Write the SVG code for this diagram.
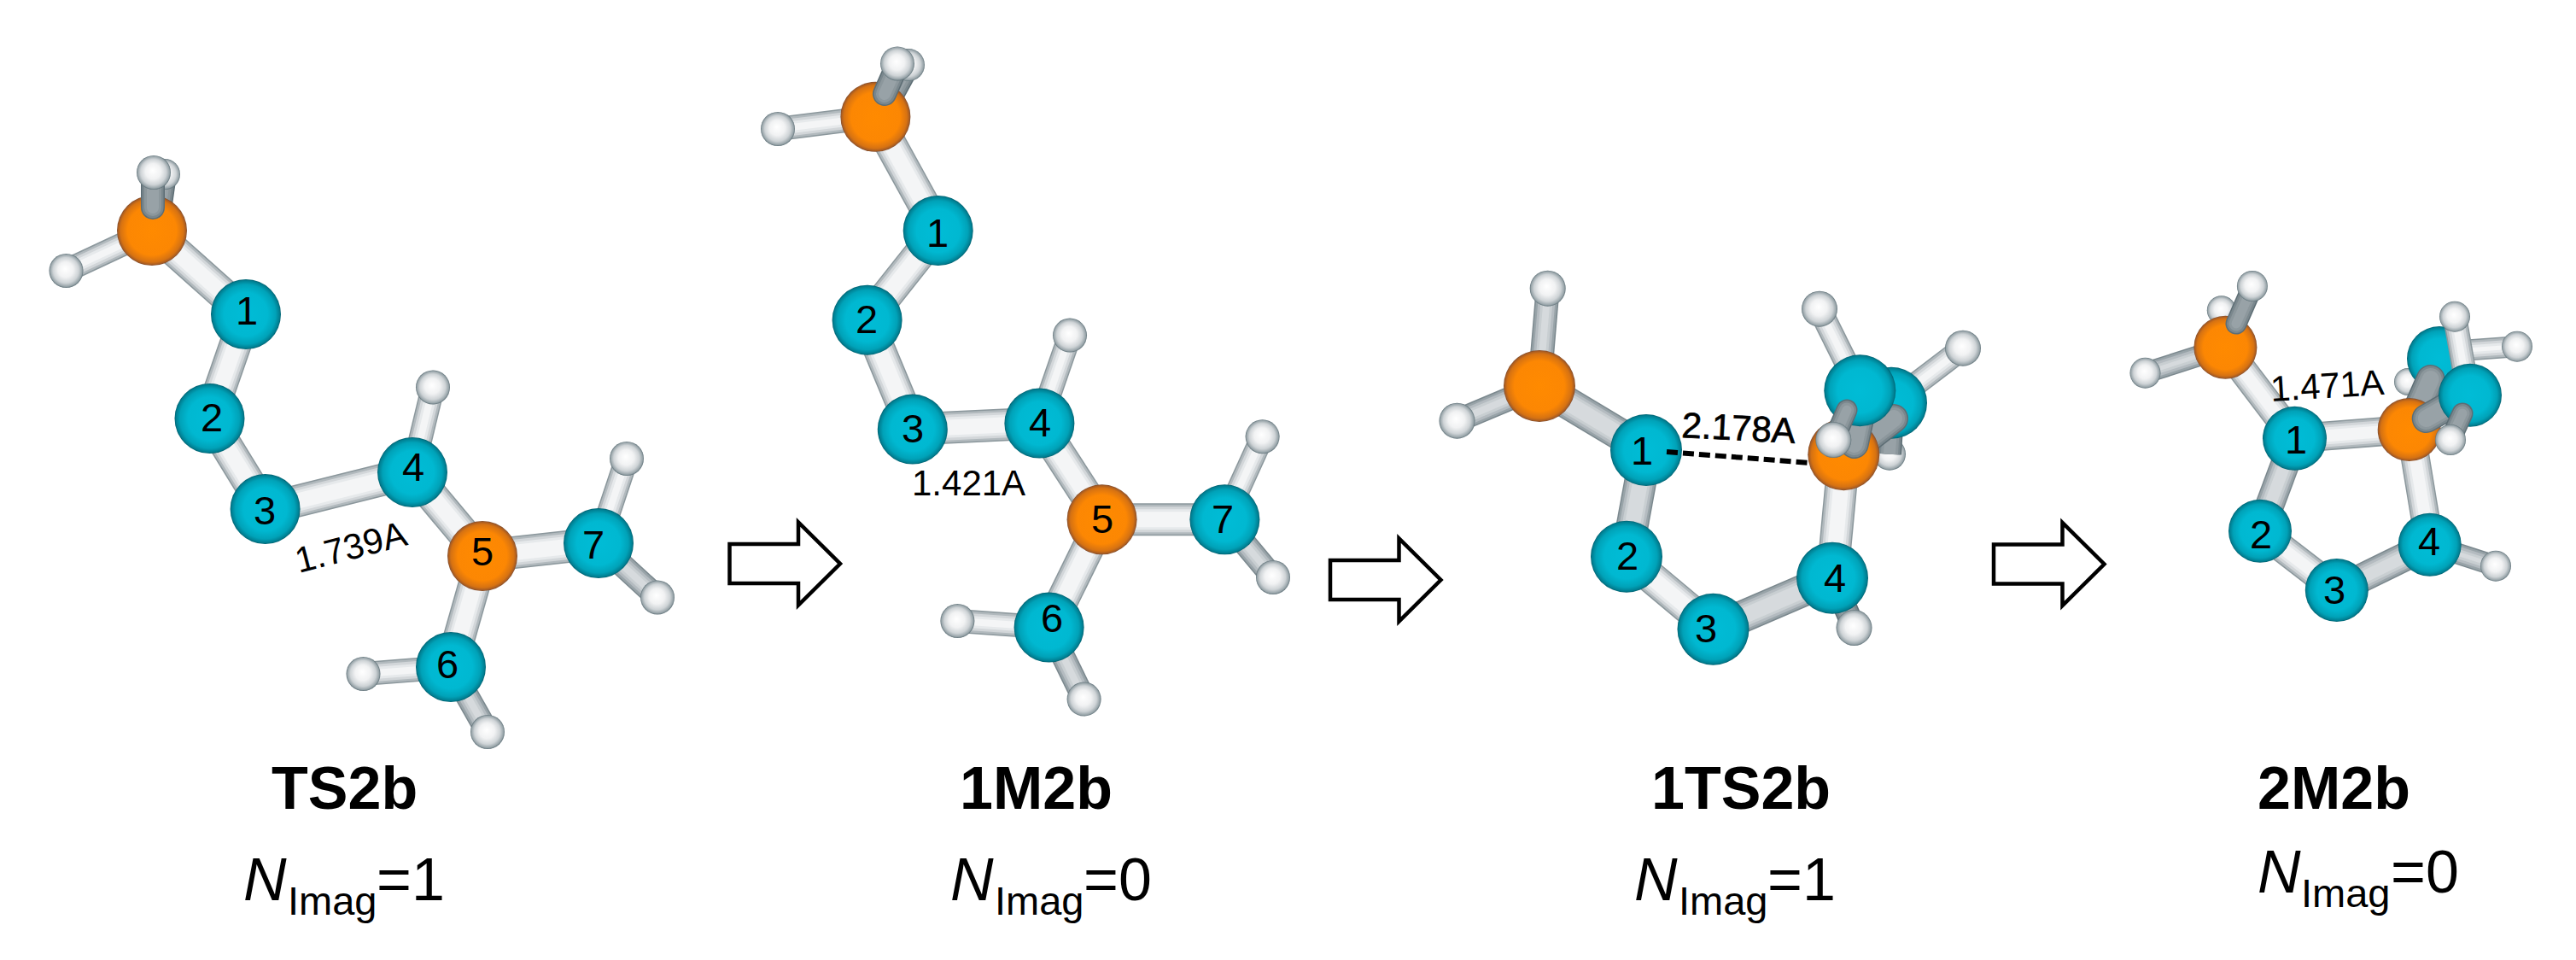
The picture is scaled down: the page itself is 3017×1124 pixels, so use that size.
<svg xmlns="http://www.w3.org/2000/svg" width="3017" height="1124" viewBox="0 0 3017 1124">
<style>
text{font-family:"Liberation Sans",Arial,sans-serif;fill:#000}
.n{font-size:47px;text-anchor:middle}
.d{font-size:42px}
.heavy{stroke:#000;stroke-width:.7}
.t{font-size:70px;font-weight:bold}
.v{font-size:70px}
.s{font-size:47px}
.c{fill:url(#gc)}.o{fill:url(#go)}.h{fill:url(#gh)}
line{fill:none}
.hv{stroke-width:calc(38px - var(--d))}
.hd{stroke-width:calc(34px - var(--d))}
.yv{stroke-width:calc(28px - var(--d))}
.yd{stroke-width:calc(25px - var(--d))}
.l{stroke:var(--l)}.m{stroke:var(--m)}.k{stroke:var(--k)}
.p1{--d:0px;--l:#8b979c;--m:#7b888e;--k:#5d6d74}
.p2{--d:3px;--l:#b1b9bd;--m:#98a3a8;--k:#7a878d}
.p3{--d:8px;--l:#d2d6d9;--m:#b4bbc0;--k:#8c979c}
.p4{--d:14px;--l:#e6e9eb;--m:#c8ced1;--k:#98a2a7}
.p5{--d:20px;--l:#f4f5f6;--m:#d6dadd;--k:#9ea7ac}
.ro{stroke-linecap:round}
.arrow{fill:#fff;stroke:#000;stroke-width:4.500}
.dash{stroke:#000;stroke-width:6;stroke-dasharray:13 6}
</style>
<defs>
<radialGradient id="gc"><stop offset="0" stop-color="#00bcd6"/><stop offset=".62" stop-color="#00b8d1"/><stop offset=".85" stop-color="#00a2b8"/><stop offset=".96" stop-color="#007f92"/><stop offset="1" stop-color="#00606f"/></radialGradient>
<radialGradient id="go"><stop offset="0" stop-color="#ff8a00"/><stop offset=".7" stop-color="#fc8703"/><stop offset=".9" stop-color="#d67212"/><stop offset=".97" stop-color="#a85c22"/><stop offset="1" stop-color="#7d4a2c"/></radialGradient>
<radialGradient id="gh" fx=".47" fy=".44"><stop offset="0" stop-color="#fff"/><stop offset=".45" stop-color="#f1f2f3"/><stop offset=".75" stop-color="#ced3d6"/><stop offset=".93" stop-color="#98a4a9"/><stop offset="1" stop-color="#5f7178"/></radialGradient>
<path id="arw" d="M0-23H80.500V-48.500L129.500 0 80.500 48.500V23H0Z"/>
<g id="bonds">
<line class="hv l" x1="178" y1="270" x2="288" y2="368"/>
<line class="hv l" x1="288" y1="368" x2="245.500" y2="490"/>
<line class="hv l" x1="245.500" y1="490" x2="310.600" y2="596"/>
<line class="hv l" x1="310.600" y1="596" x2="483" y2="553"/>
<line class="hv l" x1="483" y1="553" x2="565" y2="651"/>
<line class="hv l" x1="565" y1="651" x2="528" y2="781"/>
<line class="hv l" x1="565" y1="651" x2="701" y2="636"/>
<line class="yv l" x1="178" y1="270" x2="77.500" y2="317"/>
<line class="yv k" x1="193" y1="204" x2="185" y2="260"/>
<line class="yv l" x1="483" y1="553" x2="507" y2="453.500"/>
<line class="yv l" x1="701" y1="636" x2="734" y2="537"/>
<line class="yv m" x1="701" y1="636" x2="770" y2="699.500"/>
<line class="yv l" x1="528" y1="781" x2="425.500" y2="789"/>
<line class="yv m" x1="528" y1="781" x2="571" y2="857"/>
<line class="hv l" x1="1025.400" y1="136.800" x2="1098.700" y2="270"/>
<line class="hv l" x1="1098.700" y1="270" x2="1015.600" y2="374.700"/>
<line class="hv l" x1="1015.600" y1="374.700" x2="1068.800" y2="502.600"/>
<line class="hv l" x1="1068.800" y1="502.600" x2="1217.400" y2="495.600"/>
<line class="hv l" x1="1217.400" y1="495.600" x2="1290.600" y2="608.300"/>
<line class="hv l" x1="1290.600" y1="608.300" x2="1228.600" y2="734.600"/>
<line class="hv l" x1="1290.600" y1="608.300" x2="1434.400" y2="608.300"/>
<line class="yv l" x1="1025.400" y1="136.800" x2="911" y2="151"/>
<line class="yv k" x1="1064" y1="76" x2="1040" y2="120"/>
<line class="yv l" x1="1217.400" y1="495.600" x2="1253" y2="392.600"/>
<line class="yv l" x1="1434.400" y1="608.300" x2="1478.600" y2="511.300"/>
<line class="yv m" x1="1434.400" y1="608.300" x2="1491" y2="676"/>
<line class="yv l" x1="1228.600" y1="734.600" x2="1121.400" y2="727"/>
<line class="yv m" x1="1228.600" y1="734.600" x2="1269.600" y2="818.600"/>
<line class="hv m" x1="1803" y1="452" x2="1928" y2="527"/>
<line class="hv m" x1="1928" y1="527" x2="1905" y2="651.700"/>
<line class="hv l" x1="1905" y1="651.700" x2="2006.500" y2="736.700"/>
<line class="hv m" x1="2006.500" y1="736.700" x2="2146" y2="676.700"/>
<line class="hv l" x1="2146" y1="676.700" x2="2159.600" y2="532"/>
<line class="yv m" x1="1803" y1="452" x2="1812.700" y2="337.700"/>
<line class="yv m" x1="1803" y1="452" x2="1706.500" y2="492.700"/>
<line class="yv l" x1="2131" y1="361.700" x2="2178.700" y2="457.700"/>
<line class="yv l" x1="2299" y1="407.700" x2="2215" y2="471.700"/>
<line class="yv k" x1="2146" y1="676.700" x2="2171.500" y2="735"/>
<line class="hd l" x1="2606.400" y1="406.700" x2="2687.500" y2="513.300"/>
<line class="hd l" x1="2687.500" y1="513.300" x2="2823.200" y2="502.700"/>
<line class="hd m" x1="2687.500" y1="513.300" x2="2647" y2="621.700"/>
<line class="hd l" x1="2647" y1="621.700" x2="2736.800" y2="691"/>
<line class="hd m" x1="2736.800" y1="691" x2="2845.700" y2="637.700"/>
<line class="hd l" x1="2845.700" y1="637.700" x2="2823.200" y2="502.700"/>
<line class="yd m" x1="2606.400" y1="406.700" x2="2512.500" y2="436.700"/>
<line class="yd k" x1="2606.400" y1="406.700" x2="2601.800" y2="363.300"/>
<line class="yd m" x1="2845.700" y1="637.700" x2="2923" y2="662.700"/>
<line class="yd l" x1="2948" y1="405.700" x2="2875" y2="411"/>
<line class="yd k" x1="2820" y1="447" x2="2850" y2="440"/>
</g>
<line id="fa1" class="yv k ro" x1="179" y1="202" x2="179" y2="243"/>
<line id="fb1" class="yv k ro" x1="1051" y1="76" x2="1036" y2="110"/>
<line id="fc0" class="yv k" x1="2213" y1="531.700" x2="2215" y2="500"/>
<line id="fc1" class="hd k ro" x1="2218" y1="490" x2="2183" y2="517"/>
<line id="fc2" class="hd k ro" x1="2178" y1="490" x2="2171.700" y2="520"/>
<line id="fc3" class="yd k ro" x1="2163" y1="480" x2="2150" y2="510"/>
<line id="fd1" class="yd k ro" x1="2637.500" y1="336.700" x2="2619" y2="379"/>
<line id="fd2" class="hd k ro" x1="2846.700" y1="444" x2="2831.700" y2="478"/>
<line id="fd3" class="hd k ro" x1="2841.700" y1="490" x2="2884" y2="466"/>
<line id="fd4" class="yv l" x1="2875" y1="370.700" x2="2889" y2="450"/>
<line id="fd5" class="yd k ro" x1="2884" y1="484" x2="2870" y2="515"/>
</defs>

<g id="connectors">
<use href="#bonds" class="p1"/><use href="#bonds" class="p2"/><use href="#bonds" class="p3"/><use href="#bonds" class="p4"/><use href="#bonds" class="p5"/>
</g>

<g id="mol-TS2b">
<g id="a-H3"><circle class="h" cx="193" cy="204" r="18"/></g>
<g id="a-N"><circle class="o" cx="178" cy="270" r="41"/></g>
<g id="a-rod"><use href="#fa1" class="p1"/><use href="#fa1" class="p2"/><use href="#fa1" class="p3"/><use href="#fa1" class="p4"/></g>
<g id="a-H2"><circle class="h" cx="180" cy="202" r="20"/></g>
<g id="a-H1"><circle class="h" cx="77.500" cy="317" r="20"/></g>
<g id="a-1"><circle class="c" cx="288" cy="368" r="41"/><text class="n" x="289" y="380">1</text></g>
<g id="a-2"><circle class="c" cx="245.500" cy="490" r="41"/><text class="n" x="248" y="505">2</text></g>
<g id="a-3"><circle class="c" cx="310.600" cy="596" r="41"/><text class="n" x="310" y="614">3</text></g>
<g id="a-4"><circle class="c" cx="483" cy="553" r="41"/><text class="n" x="484" y="563">4</text></g>
<g id="a-5"><circle class="o" cx="565" cy="651" r="41"/><text class="n" x="565" y="662">5</text></g>
<g id="a-6"><circle class="c" cx="528" cy="781" r="41"/><text class="n" x="524" y="794">6</text></g>
<g id="a-7"><circle class="c" cx="701" cy="636" r="41"/><text class="n" x="695" y="654">7</text></g>
<g id="a-H4"><circle class="h" cx="507" cy="453.500" r="20"/></g>
<g id="a-H5"><circle class="h" cx="734" cy="537" r="20"/></g>
<g id="a-H6"><circle class="h" cx="770" cy="699.500" r="20"/></g>
<g id="a-H7"><circle class="h" cx="425.500" cy="789" r="20"/></g>
<g id="a-H8"><circle class="h" cx="571" cy="857" r="20"/></g>
<text class="d" transform="translate(350 671) rotate(-14.500)">1.739A</text>
<text class="t" x="318" y="947">TS2b</text>
<text class="v"><tspan x="285" y="1054" font-style="italic">N</tspan><tspan class="s" x="337" y="1071">Imag</tspan><tspan x="441" y="1054">=1</tspan></text>
</g>

<g id="mol-1M2b">
<g id="b-H3"><circle class="h" cx="1064" cy="76" r="19"/></g>
<g id="b-N"><circle class="o" cx="1025.400" cy="136.800" r="41"/></g>
<g id="b-rod"><use href="#fb1" class="p1"/><use href="#fb1" class="p2"/><use href="#fb1" class="p3"/><use href="#fb1" class="p4"/></g>
<g id="b-H2"><circle class="h" cx="1051" cy="74.400" r="20"/></g>
<g id="b-H1"><circle class="h" cx="911" cy="151" r="20"/></g>
<g id="b-1"><circle class="c" cx="1098.700" cy="270" r="41"/><text class="n" x="1098" y="289">1</text></g>
<g id="b-2"><circle class="c" cx="1015.600" cy="374.700" r="41"/><text class="n" x="1015" y="390">2</text></g>
<g id="b-3"><circle class="c" cx="1068.800" cy="502.600" r="41"/><text class="n" x="1069" y="518">3</text></g>
<g id="b-4"><circle class="c" cx="1217.400" cy="495.600" r="41"/><text class="n" x="1218" y="511">4</text></g>
<g id="b-5"><circle class="o" cx="1290.600" cy="608.300" r="41"/><text class="n" x="1291" y="623.500">5</text></g>
<g id="b-6"><circle class="c" cx="1228.600" cy="734.600" r="41"/><text class="n" x="1232" y="740">6</text></g>
<g id="b-7"><circle class="c" cx="1434.400" cy="608.300" r="41"/><text class="n" x="1432" y="623.500">7</text></g>
<g id="b-H4"><circle class="h" cx="1253" cy="392.600" r="20"/></g>
<g id="b-H5"><circle class="h" cx="1478.600" cy="511.300" r="20"/></g>
<g id="b-H6"><circle class="h" cx="1491" cy="676" r="20"/></g>
<g id="b-H7"><circle class="h" cx="1121.400" cy="727" r="20"/></g>
<g id="b-H8"><circle class="h" cx="1269.600" cy="818.600" r="20"/></g>
<text class="d" x="1068" y="580">1.421A</text>
<text class="t" x="1124" y="947">1M2b</text>
<text class="v"><tspan x="1113" y="1054" font-style="italic">N</tspan><tspan class="s" x="1165" y="1071">Imag</tspan><tspan x="1269" y="1054">=0</tspan></text>
</g>

<g id="mol-1TS2b">
<g id="c-H1"><circle class="h" cx="1812.700" cy="337.700" r="21"/></g>
<g id="c-H2"><circle class="h" cx="1706.500" cy="492.700" r="21"/></g>
<g id="c-H3"><circle class="h" cx="2131" cy="361.700" r="21"/></g>
<g id="c-H4"><circle class="h" cx="2299" cy="407.700" r="21"/></g>
<g id="c-H5"><circle class="h" cx="2171.500" cy="735" r="21"/></g>
<g id="c-N"><circle class="o" cx="1803" cy="452" r="42"/></g>
<g id="c-1"><circle class="c" cx="1928" cy="527" r="42"/><text class="n" x="1923" y="544">1</text></g>
<g id="c-2"><circle class="c" cx="1905" cy="651.700" r="42"/><text class="n" x="1906" y="667">2</text></g>
<g id="c-3"><circle class="c" cx="2006.500" cy="736.700" r="42"/><text class="n" x="1998" y="752">3</text></g>
<g id="c-4"><circle class="c" cx="2146" cy="676.700" r="42"/><text class="n" x="2149" y="693">4</text></g>
<g id="c-H6"><circle class="h" cx="2213" cy="531.700" r="19"/></g>
<g id="c-rod0"><use href="#fc0" class="p1"/><use href="#fc0" class="p2"/><use href="#fc0" class="p3"/><use href="#fc0" class="p4"/></g>
<g id="c-7"><circle class="c" cx="2215" cy="471.700" r="42"/></g>
<g id="c-rod1"><use href="#fc1" class="p1"/><use href="#fc1" class="p2"/><use href="#fc1" class="p3"/><use href="#fc1" class="p4"/></g>
<g id="c-5"><circle class="o" cx="2159.300" cy="532.300" r="42"/></g>
<g id="c-rod2"><use href="#fc2" class="p1"/><use href="#fc2" class="p2"/><use href="#fc2" class="p3"/><use href="#fc2" class="p4"/></g>
<g id="c-6"><circle class="c" cx="2178.300" cy="457.300" r="42"/></g>
<g id="c-rod3"><use href="#fc3" class="p1"/><use href="#fc3" class="p2"/><use href="#fc3" class="p3"/><use href="#fc3" class="p4"/></g>
<g id="c-H7"><circle class="h" cx="2147.300" cy="515" r="21"/></g>
<line class="dash" x1="1952" y1="529" x2="2117" y2="541.700"/>
<text class="d heavy" transform="translate(1969 512) rotate(3)">2.178A</text>
<text class="t" x="1934" y="947">1TS2b</text>
<text class="v"><tspan x="1914" y="1054" font-style="italic">N</tspan><tspan class="s" x="1966" y="1071">Imag</tspan><tspan x="2070" y="1054">=1</tspan></text>
</g>

<g id="mol-2M2b">
<g id="d-H2"><circle class="h" cx="2601.800" cy="363.300" r="17"/></g>
<g id="d-H1"><circle class="h" cx="2512.500" cy="436.700" r="18"/></g>
<g id="d-H5"><circle class="h" cx="2923" cy="662.700" r="18"/></g>
<g id="d-N"><circle class="o" cx="2606.400" cy="406.700" r="37"/></g>
<g id="d-rod1"><use href="#fd1" class="p1"/><use href="#fd1" class="p2"/><use href="#fd1" class="p3"/><use href="#fd1" class="p4"/></g>
<g id="d-H3"><circle class="h" cx="2637.900" cy="335" r="18"/></g>
<g id="d-1"><circle class="c" cx="2687.500" cy="513.300" r="37.500"/><text class="n" x="2689" y="531">1</text></g>
<g id="d-2"><circle class="c" cx="2647" cy="621.700" r="37"/><text class="n" x="2648" y="642">2</text></g>
<g id="d-3"><circle class="c" cx="2736.800" cy="691" r="37"/><text class="n" x="2734" y="707">3</text></g>
<g id="d-4"><circle class="c" cx="2845.700" cy="637.700" r="37"/><text class="n" x="2845" y="650">4</text></g>
<g id="d-H4"><circle class="h" cx="2948" cy="405.700" r="18"/></g>
<g id="d-H6"><circle class="h" cx="2820" cy="447" r="16"/></g>
<g id="d-6"><circle class="c" cx="2857" cy="420" r="38"/></g>
<g id="d-rod2"><use href="#fd2" class="p1"/><use href="#fd2" class="p2"/><use href="#fd2" class="p3"/><use href="#fd2" class="p4"/></g>
<g id="d-5"><circle class="o" cx="2821.700" cy="503" r="37"/></g>
<g id="d-rod3"><use href="#fd3" class="p1"/><use href="#fd3" class="p2"/><use href="#fd3" class="p3"/><use href="#fd3" class="p4"/></g>
<g id="d-rod4"><use href="#fd4" class="p1"/><use href="#fd4" class="p2"/><use href="#fd4" class="p3"/><use href="#fd4" class="p4"/><use href="#fd4" class="p5"/></g>
<g id="d-7"><circle class="c" cx="2893" cy="462.700" r="37"/></g>
<g id="d-rod5"><use href="#fd5" class="p1"/><use href="#fd5" class="p2"/><use href="#fd5" class="p3"/><use href="#fd5" class="p4"/></g>
<g id="d-H7"><circle class="h" cx="2870" cy="515" r="18"/></g>
<g id="d-H8"><circle class="h" cx="2875" cy="370.700" r="18"/></g>
<text class="d" transform="translate(2660 470) rotate(-3.500)">1.471A</text>
<text class="t" x="2644" y="947">2M2b</text>
<text class="v"><tspan x="2644" y="1045" font-style="italic">N</tspan><tspan class="s" x="2695" y="1062">Imag</tspan><tspan x="2800" y="1045">=0</tspan></text>
</g>

<g id="arrows">
<use href="#arw" class="arrow" x="854.500" y="660"/>
<use href="#arw" class="arrow" x="1558" y="679"/>
<use href="#arw" class="arrow" x="2335" y="660.500"/>
</g>
</svg>
